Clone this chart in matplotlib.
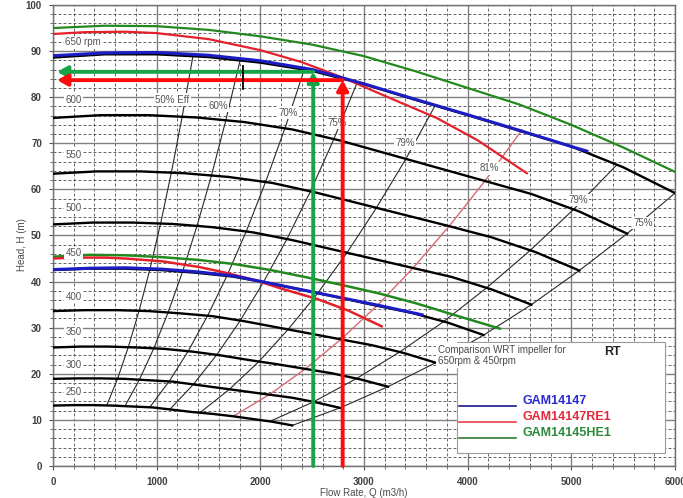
import matplotlib

matplotlib.use("Agg")
import matplotlib.pyplot as plt
from matplotlib.patches import Rectangle
from matplotlib.ticker import MultipleLocator

plt.rcParams["font.family"] = ["Liberation Sans", "DejaVu Sans"]

# black speed curves, Q (m3/h) / H (m)
Q650 = [0, 500, 1000, 1500, 2000, 2500, 3000, 3500, 4000, 4500, 5000, 5500, 6000]
H650 = [88.6, 89.3, 89.3, 88.7, 87.5, 85.7, 82.8, 79.4, 76.1, 72.7, 69.3, 64.8, 59.2]
Q600 = [0, 462, 923, 1385, 1846, 2308, 2769, 3231, 3692, 4154, 4615, 5077, 5538]
H600 = [75.5, 76.1, 76.1, 75.6, 74.6, 73.0, 70.6, 67.7, 64.8, 61.9, 59.0, 55.2, 50.4]
Q550 = [0, 423, 846, 1269, 1692, 2115, 2538, 2962, 3385, 3808, 4231, 4654, 5077]
H550 = [63.4, 63.9, 63.9, 63.5, 62.7, 61.4, 59.3, 56.9, 54.5, 52.1, 49.6, 46.4, 42.4]
Q500 = [0, 385, 769, 1154, 1538, 1923, 2308, 2692, 3077, 3462, 3846, 4231, 4615]
H500 = [52.4, 52.8, 52.8, 52.5, 51.8, 50.7, 49.0, 47.0, 45.0, 43.0, 41.0, 38.3, 35.0]
Q450 = [0, 346, 692, 1038, 1385, 1731, 2077, 2423, 2769, 3115, 3462, 3808, 4154]
H450 = [42.5, 42.8, 42.8, 42.5, 41.9, 41.1, 39.7, 38.1, 36.5, 34.8, 33.2, 31.1, 28.4]
Q400 = [0, 308, 615, 923, 1231, 1538, 1846, 2154, 2462, 2769, 3077, 3385, 3692]
H400 = [33.6, 33.8, 33.8, 33.6, 33.1, 32.5, 31.4, 30.1, 28.8, 27.5, 26.2, 24.5, 22.4]
Q350 = [0, 269, 538, 808, 1077, 1346, 1615, 1885, 2154, 2423, 2692, 2962, 3231]
H350 = [25.7, 25.9, 25.9, 25.7, 25.4, 24.8, 24.0, 23.0, 22.1, 21.1, 20.1, 18.8, 17.2]
Q300 = [0, 231, 462, 692, 923, 1154, 1385, 1615, 1846, 2077, 2308, 2538, 2769]
H300 = [18.9, 19.0, 19.0, 18.9, 18.6, 18.3, 17.6, 16.9, 16.2, 15.5, 14.8, 13.8, 12.6]
Q250 = [0, 192, 385, 577, 769, 962, 1154, 1346, 1538, 1731, 1923, 2115, 2308]
H250 = [13.1, 13.2, 13.2, 13.1, 12.9, 12.7, 12.2, 11.7, 11.3, 10.8, 10.2, 9.6, 8.8]

SPEED_CURVES = [(Q650, H650), (Q600, H600), (Q550, H550), (Q500, H500), (Q450, H450),
                (Q400, H400), (Q350, H350), (Q300, H300), (Q250, H250)]

# compared impellers at 650 and 450 rpm
BLUE_650_Q = [0, 500, 1000, 1500, 2000, 2500, 3000, 3500, 4000, 4500, 5000, 5150]
BLUE_650_H = [89.0, 89.6, 89.7, 89.1, 87.9, 86.0, 82.9, 79.5, 76.2, 72.8, 69.3, 68.3]
RED_650_Q = [0, 300, 700, 1000, 1500, 2000, 2400, 2800, 3200, 3700, 4100, 4571]
RED_650_H = [93.7, 94.1, 94.2, 93.9, 92.6, 90.2, 87.6, 84.2, 80.3, 75.5, 70.6, 63.5]
GREEN_650_Q = [0, 500, 1000, 1500, 2000, 2500, 3000, 3500, 4000, 4500, 5000, 5500, 6000]
GREEN_650_H = [95.0, 95.5, 95.4, 94.6, 93.2, 91.4, 88.9, 85.6, 82.0, 78.4, 74.0, 69.1, 63.8]
BLUE_450_Q = [0, 350, 700, 1050, 1400, 1750, 2100, 2450, 2800, 3150, 3560]
BLUE_450_H = [42.6, 42.9, 43.0, 42.7, 42.1, 41.2, 39.6, 38.0, 36.4, 34.8, 32.8]
RED_450_Q = [0, 200, 500, 700, 1050, 1400, 1650, 1950, 2200, 2550, 2850, 3170]
RED_450_H = [45.0, 45.2, 45.2, 45.0, 44.4, 43.2, 42.0, 40.3, 38.5, 36.2, 33.7, 30.3]
GREEN_450_Q = [0, 350, 700, 1050, 1400, 1750, 2100, 2450, 2800, 3150, 3500, 3850, 4310]
GREEN_450_H = [45.4, 45.8, 45.7, 45.3, 44.7, 43.8, 42.5, 40.9, 39.2, 37.4, 35.3, 32.9, 29.8]

# iso-efficiency lines, one point per speed curve (250 -> 650 rpm)
EFF50_Q = [520, 624, 728, 832, 936, 1040, 1144, 1248, 1352]
EFF50_H = [13.2, 19.0, 25.9, 33.8, 42.8, 52.8, 63.9, 76.0, 89.2]
EFF60_Q = [694, 833, 972, 1110, 1249, 1388, 1527, 1666, 1804]
EFF60_H = [13.0, 18.7, 25.5, 33.3, 42.1, 52.0, 62.9, 74.9, 87.9]
EFF70_Q = [935, 1122, 1309, 1496, 1683, 1870, 2057, 2244, 2431]
EFF70_H = [12.8, 18.4, 25.1, 32.8, 41.5, 51.2, 62.0, 73.7, 86.5]
EFF75L_Q = [1128, 1354, 1579, 1805, 2030, 2256, 2482, 2707, 2933]
EFF75L_H = [12.3, 17.7, 24.1, 31.5, 39.9, 49.2, 59.5, 70.8, 83.1]
EFF79L_Q = [1417, 1700, 1984, 2267, 2551, 2834, 3117, 3401, 3684]
EFF79L_H = [11.55, 16.6, 22.6, 29.6, 37.4, 46.2, 55.9, 66.5, 78.1]
EFF81_Q = [1740, 2088, 2436, 2784, 3132, 3480, 3828, 4176, 4524]
EFF81_H = [10.8, 15.5, 21.1, 27.6, 34.9, 43.1, 52.2, 62.1, 72.9]
EFF79R_Q = [2093, 2512, 2930, 3349, 3767, 4186, 4605, 5023, 5442]
EFF79R_H = [9.67, 13.9, 19.0, 24.8, 31.3, 38.7, 46.8, 55.7, 65.4]
EFF75R_Q = [2308, 2769, 3231, 3692, 4154, 4615, 5077, 5538, 6000]
EFF75R_H = [8.8, 12.6, 17.2, 22.4, 28.4, 35.0, 42.4, 50.4, 59.2]

EFF_LINES = [(EFF50_Q, EFF50_H), (EFF60_Q, EFF60_H), (EFF70_Q, EFF70_H),
             (EFF75L_Q, EFF75L_H), (EFF79L_Q, EFF79L_H), (EFF79R_Q, EFF79R_H),
             (EFF75R_Q, EFF75R_H)]

EFF_LABELS = ["50% Eff", "60%", "70%", "75%", "79%", "81%", "79%", "75%"]
EFF_LABEL_Q = [1150, 1590, 2265, 2740, 3394, 4214, 5063, 5690]
EFF_LABEL_H = [79.4, 78.1, 76.6, 74.4, 70.0, 64.6, 57.7, 52.7]

RPM_LABELS = ["650 rpm", "600", "550", "500", "450", "400", "350", "300", "250"]
RPM_LABEL_H = [91.9, 79.4, 67.5, 56.0, 46.2, 36.7, 29.1, 21.9, 16.1]

# duty points marked with arrows
GREEN_DUTY = (2510, 85.5)
RED_DUTY = (2794, 83.7)

BLUE = "#1c1cc4"
RED = "#e4202a"
GREEN = "#23891f"
TXT = "#4a4a4a"

fig = plt.figure(figsize=(6.83, 4.98), dpi=100, facecolor="white")
ax = fig.add_axes([0.0776, 0.0643, 0.9107, 0.9257])
ax.set_xlim(0, 6000)
ax.set_ylim(0, 100)

ax.xaxis.set_major_locator(MultipleLocator(1000))
ax.xaxis.set_minor_locator(MultipleLocator(200))
ax.yaxis.set_major_locator(MultipleLocator(10))
ax.yaxis.set_minor_locator(MultipleLocator(2))
ax.set_axisbelow(True)
ax.grid(which="major", color="#808080", lw=1.0, ls="-")
ax.grid(which="minor", color="#4a4a4a", lw=0.6, ls=(0, (3.5, 2.5)))
ax.tick_params(which="major", length=3, color="#555555", labelsize=7,
               labelcolor="#404040", pad=5)
ax.tick_params(which="minor", length=2, color="#555555")
for lab in ax.get_xticklabels() + ax.get_yticklabels():
    lab.set_fontweight("bold")
for sp in ax.spines.values():
    sp.set_color("#707070")
    sp.set_linewidth(1.0)

ax.set_xlabel("Flow Rate, Q (m3/h)", fontsize=7, color=TXT, labelpad=1)
ax.text(-0.05, 0.48, "Head, H (m)", transform=ax.transAxes, rotation=90,
        fontsize=7, color=TXT, ha="center", va="center")

# efficiency lines
for q, h in EFF_LINES:
    ax.plot(q, h, color="#2a2a2a", lw=0.8, zorder=2)
ax.plot(EFF81_Q, EFF81_H, color="#d86a74", lw=1.0, zorder=2)

# speed curves
for q, h in SPEED_CURVES:
    ax.plot(q, h, color="black", lw=1.7, zorder=3)

# impeller comparison curves
ax.plot(GREEN_650_Q, GREEN_650_H, color=GREEN, lw=1.6, zorder=4)
ax.plot(RED_650_Q, RED_650_H, color=RED, lw=1.6, zorder=4)
ax.plot(BLUE_650_Q, BLUE_650_H, color=BLUE, lw=2.2, zorder=4)
ax.plot(GREEN_450_Q, GREEN_450_H, color=GREEN, lw=1.8, zorder=4)
ax.plot(RED_450_Q, RED_450_H, color=RED, lw=1.8, zorder=4)
ax.plot(BLUE_450_Q, BLUE_450_H, color=BLUE, lw=2.2, zorder=4)

box = dict(boxstyle="square,pad=0.15", fc="white", ec="none")
for lab, h in zip(RPM_LABELS, RPM_LABEL_H):
    ax.text(120, h, lab, fontsize=7, color="#555555", ha="left", va="center",
            bbox=box, zorder=5)
for lab, q, h in zip(EFF_LABELS, EFF_LABEL_Q, EFF_LABEL_H):
    ax.text(q, h, lab, fontsize=7, color="#555555", ha="center", va="center",
            bbox=box, zorder=5)

# legend block
ax.add_patch(Rectangle((3896, 2.8), 2006, 24.1, fc="white", ec="#9a9a9a",
                       lw=0.8, zorder=6))
ax.text(3713, 26.3, "Comparison WRT impeller for\n650rpm & 450rpm", fontsize=7,
        color=TXT, ha="left", va="top", linespacing=1.15,
        bbox=dict(boxstyle="square,pad=0.2", fc="white", ec="none"), zorder=7)
ax.text(5400, 24.7, "RT", fontsize=9, fontweight="bold", color="#222222",
        ha="center", va="center", zorder=7)
LEG_NAMES = ["GAM14147", "GAM14147RE1", "GAM14145HE1"]
LEG_LINE_COLORS = ["#1a1a8c", "#e8404a", "#2e7d32"]
LEG_TEXT_COLORS = ["#2a2ad0", "#e2283a", "#2a8a3a"]
LEG_H = [13.0, 9.5, 6.0]
for name, lc, tc, h in zip(LEG_NAMES, LEG_LINE_COLORS, LEG_TEXT_COLORS, LEG_H):
    ax.plot([3915, 4465], [h, h], color=lc, lw=1.2, zorder=7)
    ax.text(4532, h + 1.2, name, fontsize=9, fontweight="bold", color=tc,
            ha="left", va="center", zorder=7)

# duty point arrows
arrow_style = "-|>,head_length=0.5,head_width=0.28"
for (q, h), col in [(GREEN_DUTY, "#17a347"), (RED_DUTY, "#ff0a0a")]:
    ax.annotate("", xy=(40, h), xytext=(q, h), zorder=8,
                arrowprops=dict(arrowstyle=arrow_style, color=col, lw=2.8,
                                mutation_scale=12, shrinkA=0, shrinkB=0))
    ax.annotate("", xy=(q, h), xytext=(q, 0), zorder=8,
                arrowprops=dict(arrowstyle=arrow_style, color=col, lw=2.8,
                                mutation_scale=12, shrinkA=0, shrinkB=0))
ax.plot([1832, 1832], [81.8, 86.8], color="black", lw=1.3, zorder=9)

fig.savefig("out.png", dpi=100, facecolor="white")
